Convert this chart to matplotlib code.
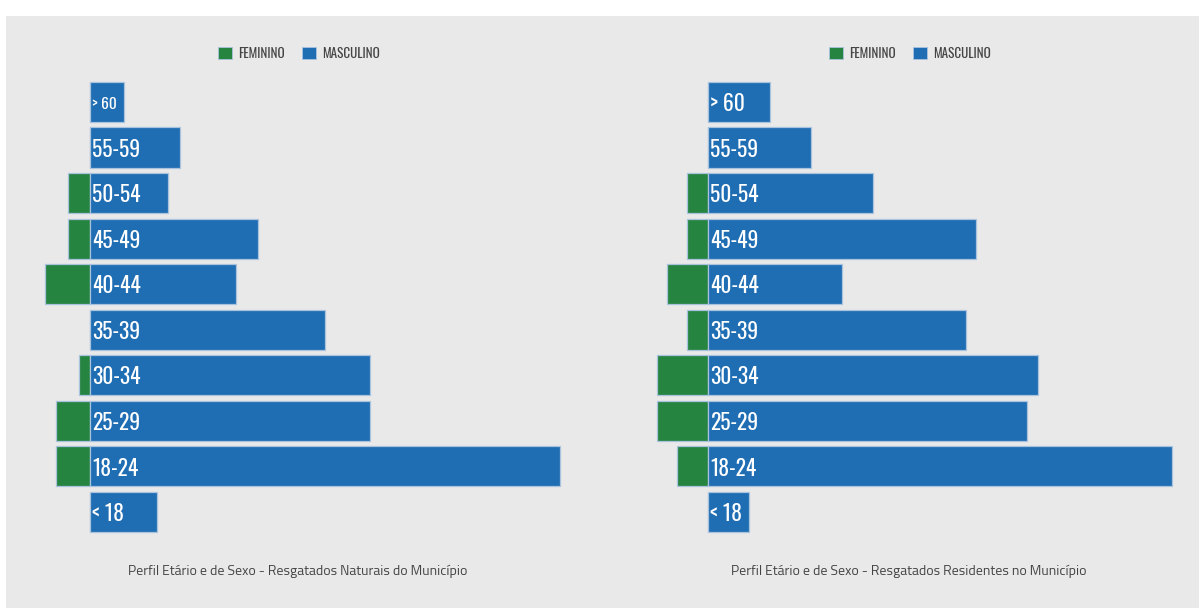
import matplotlib
matplotlib.use("Agg")
import matplotlib.pyplot as plt
from matplotlib.patches import Rectangle, Patch

# ---- data ----
categories = ["< 18", "18-24", "25-29", "30-34", "35-39", "40-44", "45-49", "50-54", "55-59", "> 60"]
nat_fem = [0, 3, 3, 1, 0, 4, 2, 2, 0, 0]
nat_masc = [6, 42, 25, 25, 21, 13, 15, 7, 8, 3]
res_fem = [0, 3, 5, 5, 2, 4, 2, 2, 0, 0]
res_masc = [4, 45, 31, 32, 25, 13, 26, 16, 10, 6]
legend_labels = ["FEMININO", "MASCULINO"]
titles = ["Perfil Etário e de Sexo - Resgatados Naturais do Município",
          "Perfil Etário e de Sexo - Resgatados Residentes no Município"]

GREEN = "#25843f"
BLUE = "#1f6db3"
EDGE = "#a9c3df"
BG = "#e9e9e9"
TXT = "#444444"

W, H = 1199, 608
fig = plt.figure(figsize=(W / 100, H / 100), dpi=100)
fig.patch.set_facecolor("white")
fig.patches.append(Rectangle((6 / W, 0), 1, (H - 16) / H, transform=fig.transFigure,
                             facecolor=BG, edgecolor="none", zorder=-10))

LABEL_FONT = ["Oswald", "DejaVu Sans"]
LEGEND_FONT = ["Oswald", "DejaVu Sans"]
TITLE_FONT = ["Titillium Web", "DejaVu Sans"]

def px_axes(x0, x1, y_top, y_bot):
    return [x0 / W, (H - y_bot) / H, (x1 - x0) / W, (y_bot - y_top) / H]

panels = [
    dict(fem=nat_fem, masc=nat_masc, zero=90, unit=11.2, off=0, title=titles[0]),
    dict(fem=res_fem, masc=res_masc, zero=708, unit=10.3, off=611, title=titles[1]),
]

row_bottom_px = 512.0
row_step = 45.56
y_top_px, y_bot_px = 75, 540

for p in panels:
    ax0, ax1 = 30 + p["off"], 590 + p["off"]
    ax = fig.add_axes(px_axes(ax0, ax1, y_top_px, y_bot_px))
    ax.set_facecolor("none")
    ax.set_xlim((ax0 - p["zero"]) / p["unit"], (ax1 - p["zero"]) / p["unit"])
    ax.set_ylim(-(y_bot_px - row_bottom_px) / row_step, (row_bottom_px - y_top_px) / row_step)
    ys = list(range(len(categories)))
    ax.barh(ys, [-f for f in p["fem"]], height=0.88, color=GREEN, edgecolor=EDGE, linewidth=0.9)
    ax.barh(ys, p["masc"], height=0.88, color=BLUE, edgecolor=EDGE, linewidth=0.9)
    for y, cat, m in zip(ys, categories, p["masc"]):
        size = 15.5 if m * p["unit"] > 40 else 11
        ax.annotate(cat, xy=(0, y), xytext=(1.5, -1.5), textcoords="offset points",
                    ha="left", va="center", color="white", fontsize=size,
                    family=LABEL_FONT)
    ax.axis("off")

    handles = [Patch(facecolor=GREEN, edgecolor=EDGE, linewidth=0.6),
               Patch(facecolor=BLUE, edgecolor=EDGE, linewidth=0.6)]
    fig.legend(handles, legend_labels, loc="center",
               bbox_to_anchor=((299 + p["off"]) / W, (H - 53) / H),
               ncol=2, frameon=False, handlelength=1.05, handleheight=1.05,
               handletextpad=0.45, columnspacing=1.35,
               prop=dict(family=LEGEND_FONT, size=9.5), labelcolor=TXT)

    fig.text((297.5 + p["off"]) / W, (H - 571) / H, p["title"], ha="center", va="center",
             fontsize=10, color=TXT, family=TITLE_FONT)

fig.savefig("out.png", dpi=100, facecolor="white")
